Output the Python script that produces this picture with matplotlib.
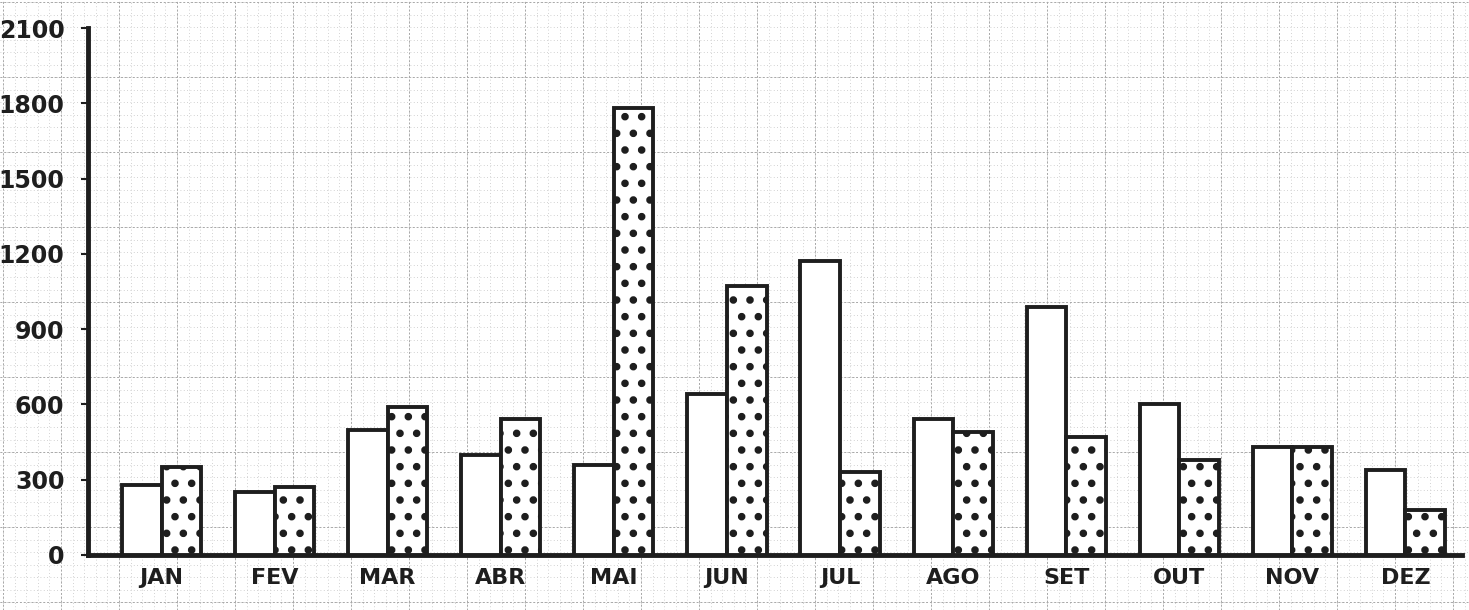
import numpy as np
import matplotlib
matplotlib.use("Agg")
import matplotlib.pyplot as plt

months = ["JAN", "FEV", "MAR", "ABR", "MAI", "JUN", "JUL", "AGO", "SET", "OUT", "NOV", "DEZ"]
serie_branca = [280, 250, 500, 400, 360, 640, 1170, 540, 990, 600, 430, 340]
serie_pontilhada = [350, 270, 590, 540, 1780, 1070, 330, 490, 470, 380, 430, 180]
yticks = [0, 300, 600, 900, 1200, 1500, 1800, 2100]
ytick_labels = ["0", "300", "600", "900", "1200", "1500", "1800", "2100"]

W, H = 1469, 610
fig = plt.figure(figsize=(W / 100, H / 100), dpi=100)
fig.patch.set_facecolor("white")

# graph-paper background
bg = fig.add_axes([0, 0, 1, 1], zorder=-5)
bg.set_xlim(0, W)
bg.set_ylim(H, 0)
bg.axis("off")
for x in np.arange(3, W, 11.6):
    bg.axvline(x, color="#c4c4c4", lw=0.6, ls=(0, (1, 3)))
for y in np.arange(2, H, 12.5):
    bg.axhline(y, color="#c4c4c4", lw=0.6, ls=(0, (1, 3)))
for x in np.arange(3, W, 58):
    bg.axvline(x, color="#a8a8a8", lw=0.7, ls=(0, (2, 2)))
for y in np.arange(2, H, 75):
    bg.axhline(y, color="#a8a8a8", lw=0.7, ls=(0, (2, 2)))

left, right = 88 / W, 1462 / W
bottom, top = 1 - 555 / H, 1 - 28 / H
ax = fig.add_axes([left, bottom, right - left, top - bottom])
ax.patch.set_alpha(0)

x = np.arange(len(months))
bw = 0.35
plt.rcParams["hatch.linewidth"] = 3.0
ax.bar(x - bw / 2, serie_branca, width=bw, color="white", edgecolor="#1e1e1e", linewidth=2.8, zorder=3)
ax.bar(x + bw / 2, serie_pontilhada, width=bw, color="white", edgecolor="#1e1e1e", linewidth=2.8,
       hatch=".", zorder=3)

ax.set_xlim(-0.65, 11.5)
ax.set_ylim(0, 2100)
ax.set_yticks(yticks)
ax.set_yticklabels(ytick_labels)
ax.set_xticks(x)
ax.set_xticklabels(months)
for s in ["top", "right"]:
    ax.spines[s].set_visible(False)
for s in ["left", "bottom"]:
    ax.spines[s].set_linewidth(3.5)
    ax.spines[s].set_color("#1e1e1e")
ax.tick_params(axis="y", length=5, width=1.5, pad=12, labelsize=17, colors="#1e1e1e")
ax.tick_params(axis="x", length=0, pad=9, labelsize=16, colors="#1e1e1e")
for lbl in ax.get_xticklabels() + ax.get_yticklabels():
    lbl.set_fontweight("bold")

fig.savefig("out.png", dpi=100)
